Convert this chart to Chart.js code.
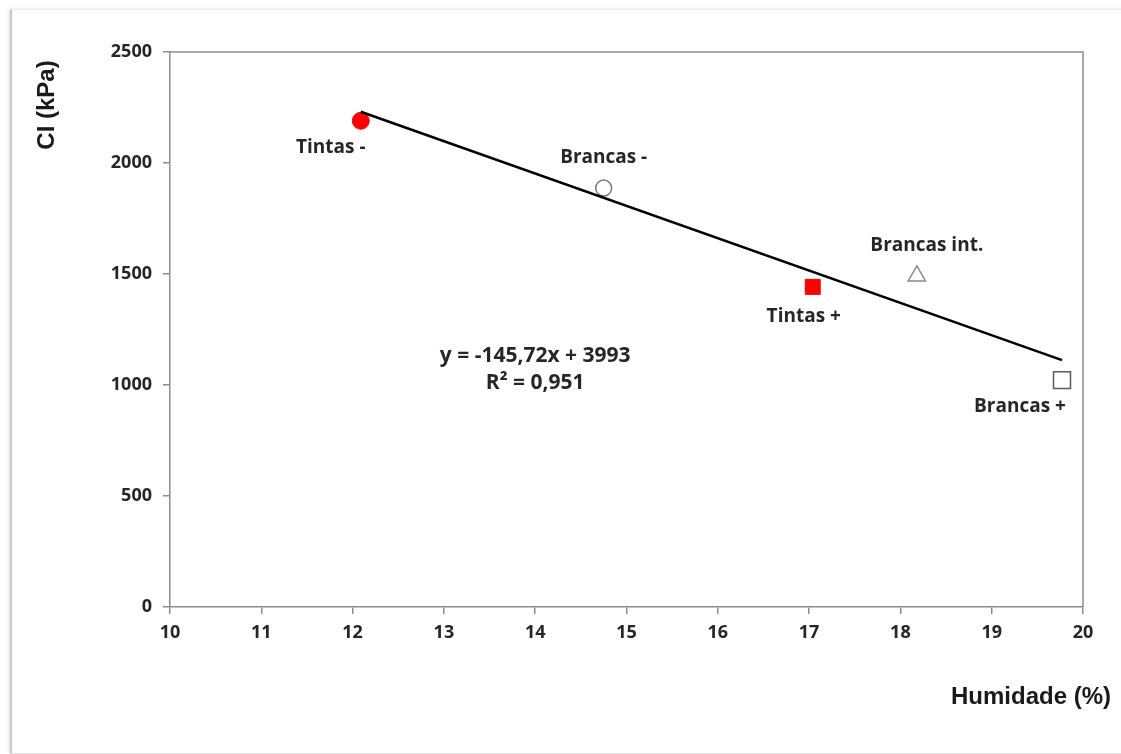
<!DOCTYPE html>
<html>
<head>
<meta charset="utf-8">
<script src="https://cdn.jsdelivr.net/npm/chart.js@4/dist/chart.umd.min.js"></script>
<style>
  html, body { margin: 0; padding: 0; background: #fff; }
  #frame {
    position: absolute; left: 10px; top: 9px; width: 1200px; height: 743px;
    border-left: 2px solid #c9c9c9; border-top: 1px solid #ebebeb; border-bottom: 1px solid #e2e2e2;
    box-shadow: -1px 0 3px rgba(0,0,0,0.12);
  }
  #wrap { position: absolute; left: 0; top: 0; width: 1121px; height: 754px; }
</style>
</head>
<body>
<div id="frame"></div>
<div id="wrap"><canvas id="chart"></canvas></div>
<script>
// data
const names = ["Tintas -", "Brancas -", "Tintas +", "Brancas int.", "Brancas +"]
const humidity = [12.09, 14.75, 17.04, 18.18, 19.77]
const ciValues = [2190, 1887, 1442, 1491, 1022]

// linear trendline shown on the chart
const trendX = [12.09, 19.77]
const trendY = [2231, 1112]
const equationLines = ["y = -145,72x + 3993", "R² = 0,951"]

const xTicks = [10, 20, 1]
const yTicks = [0, 2500, 500]

// marker look for each point
const markers = [
  { pointStyle: "circle", radius: 8.5, bg: "#ff0000", border: "#ff0000", bw: 1 },
  { pointStyle: "circle", radius: 8, bg: "#ffffff", border: "#7a7a7a", bw: 1.5 },
  { pointStyle: "rect", radius: 10.6, bg: "#ff0000", border: "#ff0000", bw: 1 },
  { pointStyle: "triangle", radius: 10, bg: "#ffffff", border: "#8a8a8a", bw: 1.5 },
  { pointStyle: "rect", radius: 12, bg: "#ffffff", border: "#5a5a5a", bw: 1.5 },
]
// label offset (px) from each point
const labelOffsets = [[-30, 27], [0, -30], [-9, 30], [10, -30], [-42, 26]]

const pointSets = names.map((n, i) => ({
  type: "scatter",
  label: n,
  data: [{ x: humidity[i], y: ciValues[i] }],
  pointStyle: markers[i].pointStyle,
  pointRadius: markers[i].radius,
  pointBackgroundColor: markers[i].bg,
  pointBorderColor: markers[i].border,
  pointBorderWidth: markers[i].bw,
  clip: false,
}))

const trendSet = {
  type: "line",
  label: "trend",
  data: trendX.map((x, i) => ({ x: x, y: trendY[i] })),
  borderColor: "#000",
  borderWidth: 2.5,
  pointRadius: 0,
  fill: false,
}

const extras = {
  id: "extras",
  beforeDatasetsDraw(chart) {
    const { ctx, chartArea: a } = chart
    ctx.save()
    ctx.strokeStyle = "#8c8c8c"
    ctx.lineWidth = 1.5
    ctx.beginPath()
    ctx.moveTo(a.left, a.top)
    ctx.lineTo(a.right, a.top)
    ctx.lineTo(a.right, a.bottom)
    ctx.stroke()
    ctx.restore()
  },
  afterDatasetsDraw(chart) {
    const { ctx, scales } = chart
    ctx.save()
    ctx.fillStyle = "#262626"
    ctx.textAlign = "center"
    ctx.textBaseline = "middle"
    ctx.font = "bold 19px 'Open Sans'"
    names.forEach((n, i) => {
      const px = scales.x.getPixelForValue(humidity[i])
      const py = scales.y.getPixelForValue(ciValues[i])
      ctx.fillText(n, px + labelOffsets[i][0], py + labelOffsets[i][1])
    })
    // equation
    ctx.font = "bold 21px 'Open Sans'"
    const ex = scales.x.getPixelForValue(14)
    const ey = scales.y.getPixelForValue(1130)
    ctx.fillText(equationLines[0], ex, ey)
    ctx.fillText(equationLines[1], ex, ey + 27)
    // axis titles
    ctx.fillStyle = "#1a1a1a"
    ctx.font = "bold 24px 'Liberation Sans'"
    ctx.fillText("Humidade (%)", 1031, 697)
    ctx.translate(47, 105)
    ctx.rotate(-Math.PI / 2)
    ctx.fillText("CI (kPa)", 0, 0)
    ctx.restore()
  },
}

const tickFont = { family: "'Open Sans'", size: 18, weight: "bold" }

new Chart(document.getElementById("chart"), {
  data: { datasets: [trendSet, ...pointSets] },
  options: {
    responsive: true,
    maintainAspectRatio: false,
    animation: false,
    layout: { padding: { left: 0, top: 52, right: 38, bottom: 0 } },
    plugins: { legend: { display: false }, tooltip: { enabled: false } },
    scales: {
      x: {
        type: "linear",
        min: xTicks[0], max: xTicks[1],
        afterFit: (s) => { s.height = 147 },
        ticks: { stepSize: xTicks[2], color: "#262626", padding: 8, font: tickFont, callback: (v) => String(v) },
        grid: { drawOnChartArea: false, drawTicks: true, tickLength: 7, color: "#8c8c8c", lineWidth: 1.5 },
        border: { color: "#8c8c8c", width: 1.5 },
      },
      y: {
        type: "linear",
        min: yTicks[0], max: yTicks[1],
        afterFit: (s) => { s.width = 170 },
        ticks: { stepSize: yTicks[2], color: "#262626", padding: 11, font: tickFont, callback: (v) => String(v) },
        grid: { drawOnChartArea: false, drawTicks: true, tickLength: 7, color: "#8c8c8c", lineWidth: 1.5 },
        border: { color: "#8c8c8c", width: 1.5 },
      },
    },
  },
  plugins: [extras],
})
</script>
</body>
</html>
